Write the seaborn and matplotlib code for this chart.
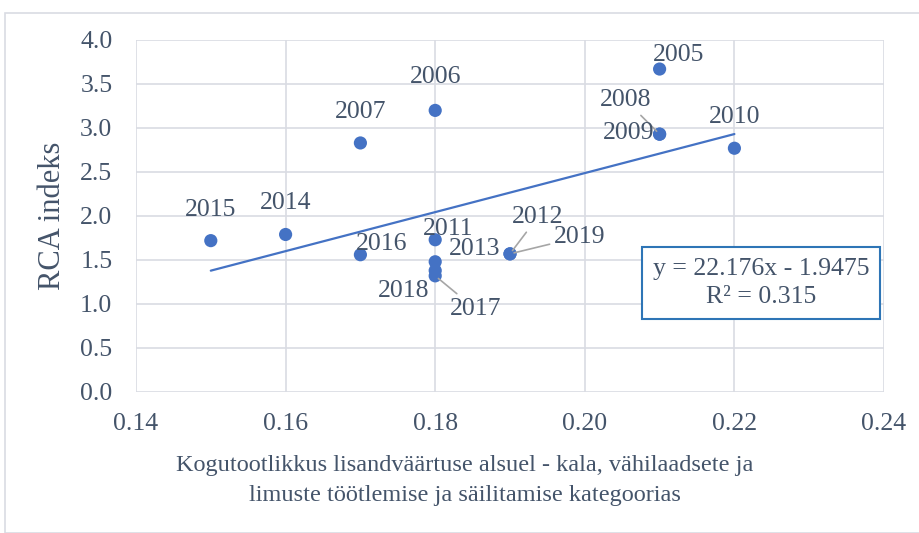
import numpy as np
import pandas as pd
import matplotlib
matplotlib.use("Agg")
import matplotlib.pyplot as plt
from matplotlib.patches import Rectangle
import seaborn as sns

# ---- Data ----
years = [2005, 2006, 2007, 2008, 2009, 2010, 2011, 2012,
         2013, 2014, 2015, 2016, 2017, 2018, 2019]
productivity = [0.21, 0.18, 0.17, 0.21, 0.21, 0.22, 0.18, 0.19,
                0.18, 0.16, 0.15, 0.17, 0.18, 0.18, 0.19]
rca_index = [3.67, 3.20, 2.83, 2.93, 2.93, 2.77, 1.73, 1.57,
             1.48, 1.79, 1.72, 1.56, 1.32, 1.38, 1.57]

# trendline as reported by the spreadsheet
slope = 22.176
intercept = -1.9475
r_squared = 0.315

x_label = ("Kogutootlikkus lisandväärtuse alsuel - kala, vähilaadsete ja\n"
           "limuste töötlemise ja säilitamise kategoorias")
y_label = "RCA indeks"

df = pd.DataFrame({"year": years, "x": productivity, "y": rca_index})

# label offsets in pixels (dx, dy) and whether a leader line is drawn
label_offsets = {
    2005: (19, 14, False), 2006: (0, 33, False), 2007: (0, 31, False),
    2008: (-34, 34, True), 2009: (-31, 1, False), 2010: (0, 31, False),
    2011: (13, 11, False), 2012: (28, 37, True), 2013: (39, 13, False),
    2014: (0, 31, False), 2015: (0, 31, False), 2016: (21, 11, False),
    2017: (40, -33, True), 2018: (-32, -20, False), 2019: (70, 17, True),
}

# ---- Style ----
sns.set_style("white")
plt.rcParams["font.family"] = ["Liberation Serif", "DejaVu Serif"]
text_color = "#44546A"
grid_color = "#D9DCE3"
point_color = "#4472C4"
fs = 18.5

fig = plt.figure(figsize=(9.2, 5.33), dpi=100)
ax = fig.add_axes([136 / 920, 1 - 392 / 533, 748 / 920, 352 / 533])

# outer chart frame
fig.patches.append(Rectangle((5 / 920, 0), 1.2, 1 - 13 / 533, transform=fig.transFigure,
                             fill=False, edgecolor=grid_color, linewidth=1.2, zorder=0))

# trendline
trend_x = np.array([min(productivity), max(productivity)])
trend = pd.DataFrame({"x": trend_x, "y": slope * trend_x + intercept})
sns.lineplot(data=trend, x="x", y="y", ax=ax, color=point_color, linewidth=1.6, zorder=3)

# points
sns.scatterplot(data=df, x="x", y="y", ax=ax, color=point_color, s=90,
                edgecolor="none", zorder=4)

# point labels
for yr, xv, yv in zip(years, productivity, rca_index):
    dx, dy, leader = label_offsets[yr]
    ax.annotate(str(yr), xy=(xv, yv), xytext=(dx, dy), textcoords="offset pixels",
                ha="center", va="center", fontsize=fs, color=text_color, zorder=5,
                arrowprops=dict(arrowstyle="-", color="#A6A6A6", lw=1.2,
                                shrinkA=1, shrinkB=3) if leader else None)

# equation box
ax.text((761 - 136) / 748, (392 - 283) / 352,
        f"y = {slope}x - {abs(intercept)}\nR² = {r_squared}",
        transform=ax.transAxes, ha="center", va="center", fontsize=fs,
        color=text_color, linespacing=1.35, zorder=6,
        bbox=dict(boxstyle="square,pad=0.42", facecolor="white",
                  edgecolor="#2E75B6", linewidth=1.5))

# axes
ax.set_xlim(0.14, 0.24)
ax.set_ylim(0.0, 4.0)
ax.set_xticks(np.arange(0.14, 0.2401, 0.02))
ax.set_yticks(np.arange(0.0, 4.01, 0.5))
ax.set_xticklabels([f"{t:.2f}" for t in np.arange(0.14, 0.2401, 0.02)])
ax.set_yticklabels([f"{t:.1f}" for t in np.arange(0.0, 4.01, 0.5)])
ax.tick_params(axis="both", length=0, labelsize=fs, colors=text_color)
ax.tick_params(axis="x", pad=15)
ax.tick_params(axis="y", pad=17)
ax.grid(True, color=grid_color, linewidth=1.2)
ax.set_axisbelow(True)
for side in ["top", "right", "left", "bottom"]:
    ax.spines[side].set_visible(False)

ax.set_xlabel(x_label, fontsize=17.5, color=text_color, linespacing=1.55)
ax.xaxis.set_label_coords((465 - 136) / 748, -0.18)
ax.set_ylabel(y_label, fontsize=22, color=text_color)
ax.yaxis.set_label_coords((67 - 136) / 748, 0.5)

fig.savefig("out.png", dpi=100, facecolor="white")
